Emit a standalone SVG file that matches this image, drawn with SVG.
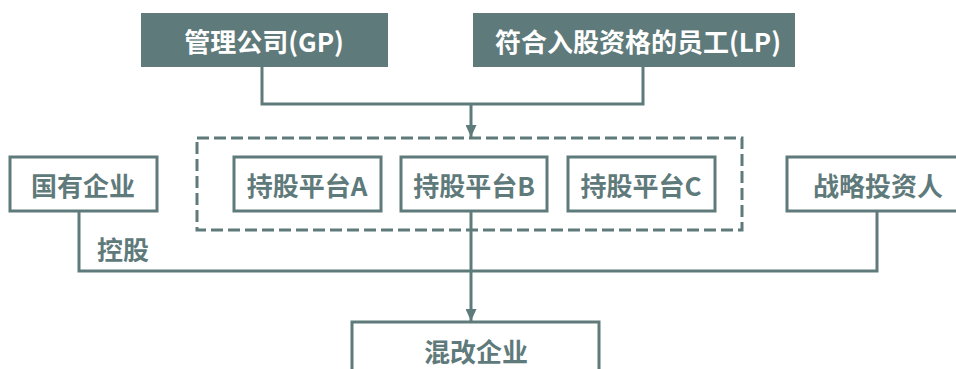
<svg xmlns="http://www.w3.org/2000/svg" width="956" height="369" viewBox="0 0 956 369">
<style>
.fill{fill:#5f7a7b;}
.box{fill:#ffffff;stroke:#5f7a7b;stroke-width:3;}
.t{font-family:"Noto Sans CJK SC","Noto Sans",sans-serif;font-weight:bold;font-size:26px;text-anchor:middle;dominant-baseline:central;}
.w{fill:#ffffff;}
.d{fill:#5f7a7b;}
.ln{fill:none;stroke:#5f7a7b;stroke-width:3;}
.dash{fill:none;stroke:#5f7a7b;stroke-width:3;stroke-dasharray:12 5;}
</style>
<defs>
<marker id="arr" viewBox="0 0 12 11" refX="12" refY="5.5" markerWidth="12" markerHeight="11" markerUnits="userSpaceOnUse" orient="auto">
<path d="M0,0 L12,5.5 L0,11 Z" fill="#5f7a7b"/>
</marker>
</defs>
<rect width="956" height="369" fill="#ffffff"/>
<g id="connectors">
<path class="ln" d="M262,67 V104 H643 V67"/>
<path class="ln" d="M471,104 V137" marker-end="url(#arr)"/>
<path class="ln" d="M79,211 V271 H877 V211"/>
<path class="ln" d="M471,211 V321" marker-end="url(#arr)"/>
<text class="t d" x="123" y="248">控股</text>
</g>
<g id="gp">
<rect class="fill" x="141" y="13" width="247" height="54"/>
<text class="t w" x="264" y="40">管理公司(GP)</text>
</g>
<g id="lp">
<rect class="fill" x="473" y="13" width="322" height="54"/>
<text class="t w" x="638" y="40">符合入股资格的员工(LP)</text>
</g>
<g id="platforms">
<rect class="dash" x="197" y="138" width="545" height="92"/>
</g>
<g id="soe">
<rect class="box" x="10" y="157" width="147" height="54"/>
<text class="t d" x="83" y="184">国有企业</text>
</g>
<g id="platformA">
<rect class="box" x="234" y="157" width="147" height="54"/>
<text class="t d" x="307" y="184">持股平台A</text>
</g>
<g id="platformB">
<rect class="box" x="401" y="157" width="146" height="54"/>
<text class="t d" x="474" y="184">持股平台B</text>
</g>
<g id="platformC">
<rect class="box" x="568" y="157" width="147" height="54"/>
<text class="t d" x="641" y="184">持股平台C</text>
</g>
<g id="investor">
<rect class="box" x="787" y="157" width="182" height="54"/>
<text class="t d" x="878" y="184">战略投资人</text>
</g>
<g id="mixed">
<rect class="box" x="352" y="322" width="247" height="70"/>
<text class="t d" x="476" y="350">混改企业</text>
</g>
</svg>
